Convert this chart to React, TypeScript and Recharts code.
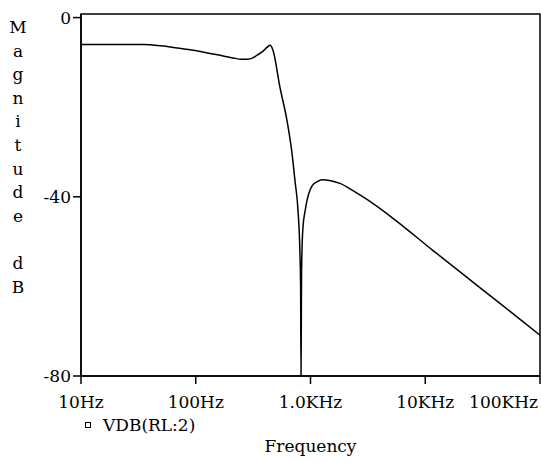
import { Legend, Line, LineChart, ReferenceArea, XAxis, YAxis } from "recharts";

// frequency points (Hz) and magnitude (dB)
const freqs = [
  10, 20, 35, 50, 69, 95, 133, 170, 211, 250, 280, 315, 342, 386, 420, 444,
  471, 542, 624, 690, 733, 778, 809, 820, 827, 835, 843, 860, 900, 932, 980,
  1030, 1150, 1259, 1500, 1807, 2400, 3105, 5233, 11700, 23100, 44800, 100000,
];
const mags = [
  -6.0, -6.0, -6.0, -6.3, -6.8, -7.3, -8.0, -8.5, -9.0, -9.3, -9.3, -9.0, -8.4,
  -7.5, -6.6, -6.2, -7.3, -15.6, -23, -30.3, -36.5, -43, -52.6, -60, -80, -58,
  -52, -46.8, -43, -40.8, -38.8, -37.6, -36.6, -36.2, -36.4, -37, -38.8, -40.6,
  -44.8, -52, -58, -63.8, -70.9,
];

const xTicks = [10, 100, 1000, 10000, 100000];
const xTickLabels = ["10Hz", "100Hz", "1.0KHz", "10KHz", "100KHz"];
const yTicks = [-80, -40, 0];
const seriesName = "VDB(RL:2)";
const yTitle = "Magnitude dB";
const xTitle = "Frequency";

const data = freqs.map((f, i) => ({ f, v: mags[i] }));

const FONT = "'DejaVu Serif', serif";
const FS = 17;

function XTick(props: any) {
  const { x, y, payload } = props;
  const i = xTicks.indexOf(payload.value);
  const last = i === xTicks.length - 1;
  return (
    <text
      x={last ? x - 2 : x}
      y={y}
      dy="0.71em"
      textAnchor={last ? "end" : "middle"}
      fontFamily={FONT}
      fontSize={FS}
      fill="#000"
    >
      {xTickLabels[i]}
    </text>
  );
}

function YTitle() {
  return (
    <text fontFamily={FONT} fontSize={FS} fill="#000" textAnchor="middle">
      {yTitle.split("").map((c, i) => (
        <tspan key={i} x={18} y={33 + i * 23.6}>
          {c}
        </tspan>
      ))}
    </text>
  );
}

function LegendBox() {
  return (
    <div
      style={{
        display: "flex",
        alignItems: "center",
        fontFamily: FONT,
        fontSize: FS,
        lineHeight: "22px",
        color: "#000",
      }}
    >
      <svg width={7} height={7}>
        <rect x={0.5} y={0.5} width={5} height={5} fill="none" stroke="#000" />
      </svg>
      <span style={{ marginLeft: 11 }}>{seriesName}</span>
    </div>
  );
}

export default function App() {
  return (
    <div style={{ position: "absolute", left: 0, top: 0 }}>
      <LineChart
        width={541}
        height={462}
        data={data}
        margin={{ top: 14, right: 1, bottom: 6, left: 0 }}
      >
        <XAxis
          dataKey="f"
          type="number"
          scale="log"
          domain={[10, 100000]}
          ticks={xTicks}
          interval={0}
          allowDataOverflow
          height={80}
          tickSize={8}
          tickMargin={12}
          tick={<XTick />}
          axisLine={{ stroke: "#000", strokeWidth: 1.5 }}
          tickLine={{ stroke: "#000", strokeWidth: 1.5 }}
          label={{
            value: xTitle,
            position: "insideBottom",
            offset: 4,
            style: { fontFamily: FONT, fontSize: FS, fill: "#000" },
          }}
        />
        <YAxis
          type="number"
          width={81}
          domain={[-80, 0.8]}
          ticks={yTicks}
          interval={0}
          allowDataOverflow
          tickSize={8}
          tickMargin={2}
          tick={{ fill: "#000", fontFamily: FONT, fontSize: FS }}
          axisLine={{ stroke: "#000", strokeWidth: 1.5 }}
          tickLine={{ stroke: "#000", strokeWidth: 1.5 }}
          label={<YTitle />}
        />
        <ReferenceArea
          x1={10}
          x2={100000}
          y1={-80}
          y2={0.8}
          fill="none"
          stroke="#000"
          strokeWidth={1.5}
          ifOverflow="visible"
        />
        <Legend
          layout="horizontal"
          verticalAlign="middle"
          align="center"
          content={<LegendBox />}
          wrapperStyle={{ left: 85, top: 414, width: "auto" }}
        />
        <Line
          type="monotone"
          dataKey="v"
          stroke="#000"
          strokeWidth={1.5}
          dot={false}
          isAnimationActive={false}
        />
      </LineChart>
    </div>
  );
}
